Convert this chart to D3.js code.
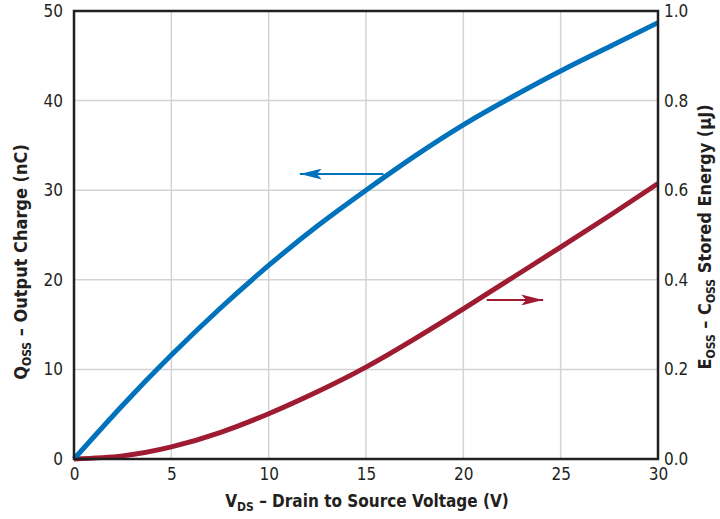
<!DOCTYPE html>
<html>
<head>
<meta charset="utf-8">
<script src="https://cdn.jsdelivr.net/npm/d3@7"></script>
<style>
body { margin: 0; background: #fff; }
svg text { font-family: "Liberation Sans Narrow", "DejaVu Sans Condensed", sans-serif; fill: #231f20; }
.tick text { font-size: 17px; }
.title { font-size: 18px; font-weight: bold; }
</style>
</head>
<body>
<div id="chart"></div>
<script>
// drain to source voltage (V)
var vds = [0, 2.5, 5, 7.5, 10, 12.5, 15, 17.5, 20, 22.5, 25, 27.5, 30];
// output charge Qoss (nC)
var qoss = [0, 6.0, 11.6, 16.8, 21.6, 26.0, 30.0, 33.8, 37.3, 40.4, 43.3, 46.0, 48.7];
// stored energy Eoss (uJ)
var eoss = [0, 0.007, 0.027, 0.059, 0.101, 0.150, 0.205, 0.268, 0.335, 0.404, 0.473, 0.543, 0.615];

var xTicks = [0, 5, 10, 15, 20, 25, 30];
var yLeftTicks = [0, 10, 20, 30, 40, 50];
var yRightTicks = [0, 0.2, 0.4, 0.6, 0.8, 1.0];

// arrow annotations: [x start, x end (tip), y] in data units
var qArrow = [15.9, 11.6, 31.8];
var eArrow = [21.2, 24.1, 0.355];

var margin = {top: 11, right: 62, bottom: 60, left: 74},
	width = 720 - margin.left - margin.right,
	height = 519 - margin.top - margin.bottom;

var blue = "#0072bc", red = "#9e1b32";

var svg = d3.select("#chart")
	.append("svg")
	.attr("width", 720)
	.attr("height", 519);

var defs = svg.append("defs");
[["headBlue", blue], ["headRed", red]].forEach(function (m) {
	defs.append("marker")
		.attr("id", m[0])
		.attr("viewBox", "0 0 22 11")
		.attr("refX", 22)
		.attr("refY", 5.5)
		.attr("markerUnits", "userSpaceOnUse")
		.attr("markerWidth", 22)
		.attr("markerHeight", 11)
		.attr("orient", "auto")
		.append("path")
		.attr("d", "M0,0 L22,5.5 L0,11 L5,5.5 Z")
		.attr("fill", m[1]);
});

var g = svg.append("g")
	.attr("transform", "translate(" + margin.left + "," + margin.top + ")");

var x = d3.scaleLinear().domain([0, 30]).range([0, width]);
var yL = d3.scaleLinear().domain([0, 50]).range([height, 0]);
var yR = d3.scaleLinear().domain([0, 1]).range([height, 0]);

// grid
g.append("g")
	.selectAll("line")
	.data(xTicks.slice(1, -1))
	.enter()
	.append("line")
	.attr("x1", function (d) { return x(d); })
	.attr("x2", function (d) { return x(d); })
	.attr("y1", 0)
	.attr("y2", height)
	.attr("stroke", "#d3d3d3")
	.attr("stroke-width", 1.5);

g.append("g")
	.selectAll("line")
	.data(yLeftTicks.slice(1, -1))
	.enter()
	.append("line")
	.attr("x1", 0)
	.attr("x2", width)
	.attr("y1", function (d) { return yL(d); })
	.attr("y2", function (d) { return yL(d); })
	.attr("stroke", "#d3d3d3")
	.attr("stroke-width", 1.5);

// axes (labels only, frame drawn separately)
g.append("g")
	.attr("transform", "translate(0," + height + ")")
	.call(d3.axisBottom(x).tickValues(xTicks).tickSize(0).tickPadding(9))
	.call(function (a) { a.select(".domain").remove(); });

g.append("g")
	.call(d3.axisLeft(yL).tickValues(yLeftTicks).tickSize(0).tickPadding(11))
	.call(function (a) { a.select(".domain").remove(); });

g.append("g")
	.attr("transform", "translate(" + width + ",0)")
	.call(d3.axisRight(yR).tickValues(yRightTicks).tickSize(0).tickPadding(6).tickFormat(d3.format(".1f")))
	.call(function (a) { a.select(".domain").remove(); });

g.selectAll(".tick text").attr("fill", "#231f20");

// curves
var qLine = d3.line()
	.x(function (d, i) { return x(vds[i]); })
	.y(function (d) { return yL(d); })
	.curve(d3.curveNatural);

var eLine = d3.line()
	.x(function (d, i) { return x(vds[i]); })
	.y(function (d) { return yR(d); })
	.curve(d3.curveNatural);

g.append("path")
	.attr("d", eLine(eoss))
	.attr("fill", "none")
	.attr("stroke", red)
	.attr("stroke-width", 5);

g.append("path")
	.attr("d", qLine(qoss))
	.attr("fill", "none")
	.attr("stroke", blue)
	.attr("stroke-width", 5);

// frame
g.append("rect")
	.attr("width", width)
	.attr("height", height)
	.attr("fill", "none")
	.attr("stroke", "#231f20")
	.attr("stroke-width", 2.5);

// arrows
g.append("line")
	.attr("x1", x(qArrow[0])).attr("x2", x(qArrow[1]))
	.attr("y1", yL(qArrow[2])).attr("y2", yL(qArrow[2]))
	.attr("stroke", blue)
	.attr("stroke-width", 2)
	.attr("marker-end", "url(#headBlue)");

g.append("line")
	.attr("x1", x(eArrow[0])).attr("x2", x(eArrow[1]))
	.attr("y1", yR(eArrow[2])).attr("y2", yR(eArrow[2]))
	.attr("stroke", red)
	.attr("stroke-width", 2)
	.attr("marker-end", "url(#headRed)");

// titles
function title(sel, main, sub, rest) {
	sel.append("tspan").text(main);
	sel.append("tspan").attr("font-size", "12px").attr("dy", 4).text(sub);
	sel.append("tspan").attr("dy", -4).text(rest);
}

var xt = svg.append("text")
	.attr("class", "title")
	.attr("text-anchor", "middle")
	.attr("font-size", "17px")
	.style("font-size", "17px")
	.attr("x", 367)
	.attr("y", 507);
title(xt, "V", "DS", " \u2013 Drain to Source Voltage (V)");

var ylt = svg.append("text")
	.attr("class", "title")
	.attr("text-anchor", "middle")
	.attr("transform", "translate(27,262) rotate(-90)");
title(ylt, "Q", "OSS", " \u2013 Output Charge (nC)");

var yrt = svg.append("text")
	.attr("class", "title")
	.attr("text-anchor", "middle")
	.attr("transform", "translate(711,237) rotate(-90)");
yrt.append("tspan").text("E");
yrt.append("tspan").attr("font-size", "12px").attr("dy", 4).text("OSS");
yrt.append("tspan").attr("dy", -4).text(" \u2013 C");
yrt.append("tspan").attr("font-size", "12px").attr("dy", 4).text("OSS");
yrt.append("tspan").attr("dy", -4).text(" Stored Energy (\u00b5J)");
</script>
</body>
</html>
